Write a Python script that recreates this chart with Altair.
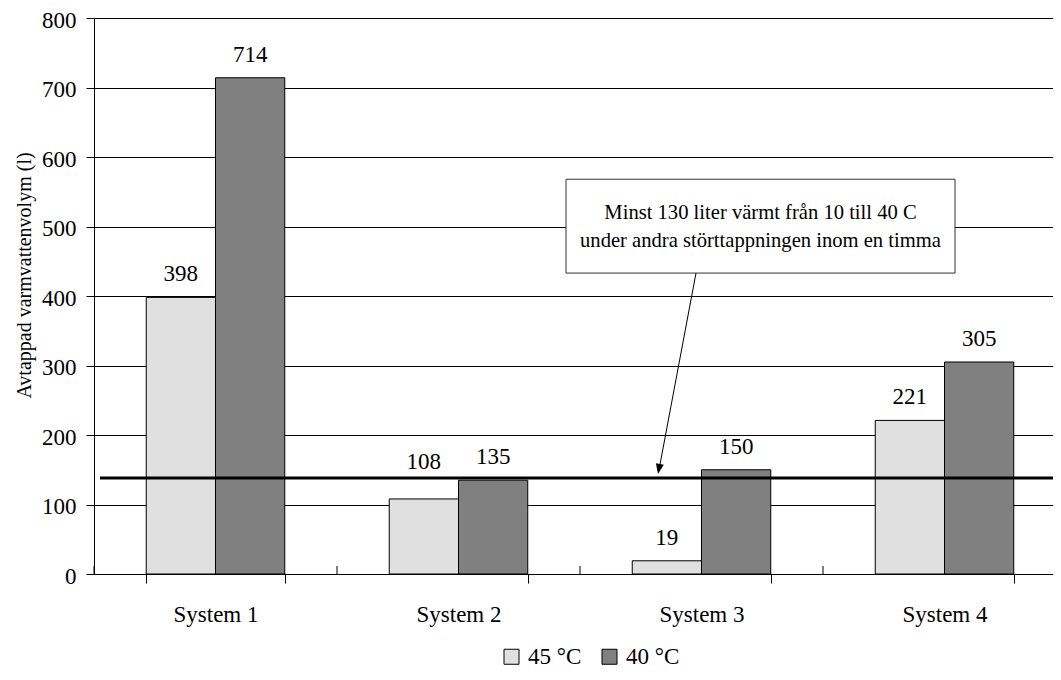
import altair as alt
import pandas as pd

# ---- data ----
systems = ["System 1", "System 2", "System 3", "System 4"]
series = ["45 °C", "40 °C"]
v45 = [398, 108, 19, 221]
v40 = [714, 135, 150, 305]
threshold = 138
note_lines = ["Minst 130 liter värmt från 10 till 40 C",
              "under andra störttappningen inom en timma"]

rows = []
for s, a, b in zip(systems, v45, v40):
    rows.append({"system": s, "serie": series[0], "value": a})
    rows.append({"system": s, "serie": series[1], "value": b})
df = pd.DataFrame(rows)

FONT = "Liberation Serif"
W, H = 972, 556
P_IN, P_OUT = 0.43, 0.215
STEP = W / (len(systems) - P_IN + 2 * P_OUT)

x = alt.X("system:N", sort=systems, title=None,
          scale=alt.Scale(paddingInner=P_IN, paddingOuter=P_OUT),
          axis=alt.Axis(labelAngle=0, tickBand="extent", tickSize=9,
                        labelPadding=20, labelFontSize=23, labelFont=FONT,
                        labelColor="black", domainColor="black",
                        tickColor="black", grid=False))
xo = alt.XOffset("serie:N", sort=series,
                 scale=alt.Scale(domain=series, paddingInner=0, paddingOuter=0))
y = alt.Y("value:Q", title="Avtappad varmvattenvolym (l)",
          scale=alt.Scale(domain=[0, 800], nice=False),
          axis=alt.Axis(values=list(range(0, 801, 100)), tickSize=8,
                        labelPadding=10, labelOffset=2, labelFontSize=23,
                        labelFont=FONT, labelColor="black",
                        titleFont=FONT, titleFontSize=20,
                        titleFontWeight="normal", titleColor="black",
                        titleX=-60, titleY=257, domainColor="black",
                        tickColor="black", gridColor="black",
                        gridOpacity=1, gridWidth=1))

color = alt.Color("serie:N", sort=series,
                  scale=alt.Scale(domain=series, range=["#e0e0e0", "#808080"]),
                  legend=alt.Legend(title=None, orient="none", direction="horizontal",
                                    legendX=406, legendY=627,
                                    symbolType="square", symbolSize=225,
                                    symbolStrokeColor="black", symbolStrokeWidth=1,
                                    labelFont=FONT, labelFontSize=23,
                                    labelColor="black", labelOffset=5,
                                    columnPadding=16))

base = alt.Chart(df)
bars = base.mark_bar(stroke="black", strokeWidth=1).encode(
    x=x, xOffset=xo, y=y, color=color)

labels = base.transform_calculate(
    lab_y=f"(datum.value > {threshold} - 50 && datum.value < {threshold} - 10) ? {threshold} - 10 : datum.value"
).mark_text(font=FONT, fontSize=23, color="black", dy=-16,
            baseline="alphabetic").encode(
    x=alt.X("system:N", sort=systems), xOffset=xo, y="lab_y:Q",
    text="value:Q")

# small tick marks above the category axis at the group boundaries
upticks = alt.Chart(pd.DataFrame({"system": systems})).mark_rule(
    color="black", strokeWidth=1).encode(
    x=alt.X("system:N", sort=systems, bandPosition=0),
    xOffset=alt.value(-P_IN * STEP / 2),
    y=alt.value(H - 8), y2=alt.value(H))

thr = alt.Chart(pd.DataFrame({"t": [threshold]})).mark_rule(
    color="black", strokeWidth=3).encode(
    y="t:Q", x=alt.value(6), x2=alt.value(W))

box = alt.Chart(pd.DataFrame({"y1": [568], "y2": [433]})).mark_rect(
    fill="white", stroke="#333333", strokeWidth=1).encode(
    y="y1:Q", y2="y2:Q", x=alt.value(472), x2=alt.value(861))

note = alt.Chart(pd.DataFrame({"yy": [519], "txt": [note_lines]})).mark_text(
    font=FONT, fontSize=20.6, color="black", lineHeight=28, baseline="middle",
    align="center").encode(y="yy:Q", x=alt.value(666.5), text="txt")

arrow = alt.Chart(pd.DataFrame({"y1": [433], "y2": [150]})).mark_rule(
    color="black", strokeWidth=1).encode(
    y="y1:Q", y2="y2:Q", x=alt.value(602), x2=alt.value(565))

head = alt.Chart(pd.DataFrame({"yy": [144]})).mark_point(
    shape="M0,0 L-0.8,-2 L0.8,-2 Z", size=100, filled=True, fill="black",
    stroke="black", strokeWidth=0, opacity=1, angle=10.7).encode(
    y="yy:Q", x=alt.value(564))

chart = alt.layer(bars, labels, upticks, thr, box, note, arrow, head).properties(
    width=W, height=H,
    autosize=alt.AutoSizeParams(type="none"),
    padding={"left": 86, "top": 10, "right": -13, "bottom": 97},
).configure_view(stroke=None).configure(background="white", font=FONT)

chart.save("out.html", embed_options={"renderer": "svg", "actions": False})
